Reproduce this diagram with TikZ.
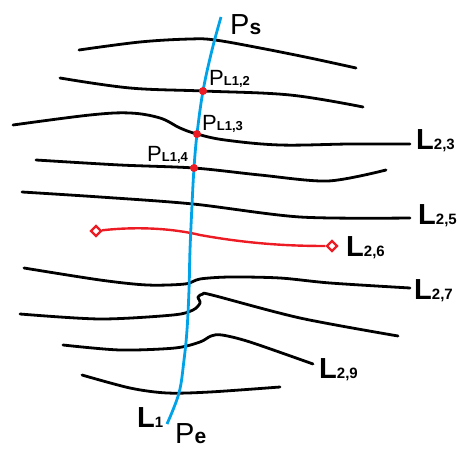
\documentclass[tikz,border=0pt]{standalone}
\usepackage{fontspec}
\setmainfont{Liberation Sans}
\definecolor{pblue}{RGB}{0,162,232}
\definecolor{pred}{RGB}{237,28,36}
\usetikzlibrary{shapes.geometric}
\tikzset{
  contour/.style={line width=2.8pt, black, line cap=round, line join=round},
  bigl/.style={anchor=base west, inner sep=0pt, font=\fontsize{29}{31}\selectfont},
  smallp/.style={anchor=base west, inner sep=0pt, font=\fontsize{22}{24}\selectfont},
  crossdot/.style={circle, fill=pred, inner sep=0pt, minimum size=8pt},
  endmark/.style={diamond, draw=pred, line width=2.2pt, fill=white, inner sep=0pt, minimum size=11pt}
}
\newcommand{\bsub}[1]{{\fontsize{15}{16}\selectfont\bfseries #1}}
\newcommand{\ssub}[1]{{\fontsize{13}{14}\selectfont\bfseries #1}}
\newcommand{\lsub}[1]{{\fontsize{21}{22}\selectfont\bfseries #1}}
\begin{document}
\begin{tikzpicture}[x=1pt,y=-1pt]
\useasboundingbox (0,0) rectangle (458,449);
% black contour lines
\draw[contour] plot[smooth, tension=0.6] coordinates {(79,50) (140,42) (190,39) (215,40) (260,48) (310,58) (356,68)};
\draw[contour] plot[smooth, tension=0.6] coordinates {(60,78) (130,88) (203,91) (290,95) (363,107)};
\draw[contour] plot[smooth, tension=0.6] coordinates {(13,125) (90,115) (130,113) (160,118) (180,128) (197,134) (225,140) (280,145) (350,144) (410,144)};
\draw[contour] plot[smooth, tension=0.5] coordinates {(36,160) (120,165) (194,168) (260,175) (328,181) (386,170)};
\draw[contour] plot[smooth, tension=0.5] coordinates {(22,192) (100,197) (193,204) (300,217) (410,218)};
\draw[contour] plot[smooth, tension=0.5] coordinates {(24,268) (100,280) (147,285) (185,284) (200,279) (230,277) (280,278) (330,283) (410,288)};
\draw[contour] plot[smooth, tension=0.5] coordinates {(20,314) (100,319) (173,315) (193,310) (200,303) (198,297) (203,294) (212,295) (300,318) (398,336)};
\draw[contour] plot[smooth, tension=0.5] coordinates {(63,345) (120,350) (175,348) (200,342) (211,336) (222,335) (250,342) (313,364)};
\draw[contour] plot[smooth, tension=0.5] coordinates {(82,375) (130,388) (167,393) (210,392) (280,387)};
% red line
\node[endmark] (ra) at (96,231) {};
\node[endmark] (rb) at (332,246) {};
\draw[pred, line width=2.4pt] (ra) .. controls (140,226) and (175,229) .. (200,235) .. controls (250,244) and (290,246) .. (rb);
% blue line
\draw[pblue, line width=2.8pt] plot[smooth, tension=0.6] coordinates {(221,17) (212,50) (203,91) (197,134) (194,168) (192,205) (190,250) (189,290) (187,330) (184,360) (179,393) (167,424)};
% crossing dots
\node[crossdot] (p12) at (203,91) {};
\node[crossdot] (p13) at (197,134) {};
\node[crossdot] (p14) at (194,168) {};
% labels
\node[bigl] (ps) at (230,35) {P\lsub{s}};
\node[smallp] (lp12) at (209,86) {P\ssub{L1,2}};
\node[smallp] (lp13) at (202,131) {P\ssub{L1,3}};
\node[smallp] (lp14) at (147,162) {P\ssub{L1,4}};
\node[bigl] (l23) at (416,150) {\bfseries L\bsub{2,3}};
\node[bigl] (l25) at (418,225) {\bfseries L\bsub{2,5}};
\node[bigl] (l26) at (346,257) {\bfseries L\bsub{2,6}};
\node[bigl] (l27) at (414,299) {\bfseries L\bsub{2,7}};
\node[bigl] (l29) at (319,378) {\bfseries L\bsub{2,9}};
\node[bigl] (l1) at (137,427) {\bfseries L\bsub{1}};
\node[bigl] (pe) at (175,443) {P\lsub{e}};
\end{tikzpicture}
\end{document}
